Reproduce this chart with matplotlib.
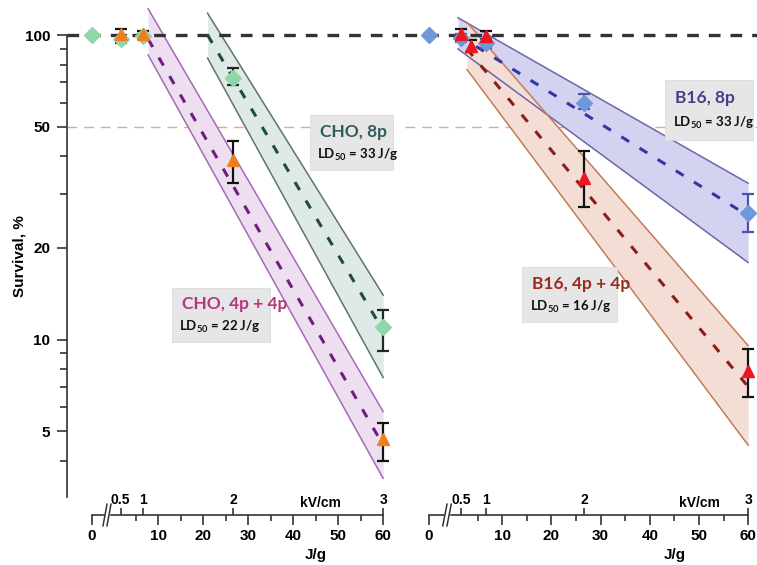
import numpy as np
import matplotlib.pyplot as plt
from matplotlib.ticker import FixedLocator, NullFormatter
from matplotlib.patches import Rectangle

plt.rcParams['font.family'] = ['Liberation Sans', 'DejaVu Sans']
plt.rcParams['mathtext.fontset'] = 'custom'
plt.rcParams['mathtext.rm'] = 'Lato:bold'
plt.rcParams['mathtext.it'] = 'Lato:bold:italic'
plt.rcParams['mathtext.bf'] = 'Lato:bold'

# ---- data (survival %, doses in J/g; 0 = untreated control) ----
cho8_x = [0, 1.67, 6.67, 26.7, 60]
cho8_y = [100, 97, 99, 72.5, 11]
cho8_lo = [100, 94, 97, 68.5, 9.2]
cho8_hi = [100, 100, 101, 78, 12.5]

cho44_x = [1.67, 6.67, 26.7, 60]
cho44_y = [101, 101, 39, 4.7]
cho44_lo = [97, 99, 32.6, 4.0]
cho44_hi = [105, 103, 45, 5.3]

b8_x = [0, 1.67, 6.67, 26.7, 60]
b8_y = [100, 98, 94, 60, 26]
b8_lo = [100, 95, 91, 57, 22.5]
b8_hi = [100, 101, 97, 64, 30]

b44_x = [1.67, 3.75, 6.67, 26.7, 60]
b44_y = [101, 92, 99, 34, 7.9]
b44_lo = [97, 88, 95, 27.2, 6.5]
b44_hi = [105, 96, 103, 41.6, 9.3]

# regression fits with confidence bands (ends)
cho44_fit_x = [7.8, 60]
cho44_fit_mid = [97, 4.5]
cho44_fit_up = [122, 5.8]
cho44_fit_dn = [86, 3.5]

cho8_fit_x = [21, 60]
cho8_fit_mid = [100, 10.7]
cho8_fit_up = [118, 14]
cho8_fit_dn = [84, 7.5]

b8_fit_x = [1.0, 60]
b8_fit_mid = [100, 25.5]
b8_fit_up = [114, 32.6]
b8_fit_dn = [90, 17.9]

b44_fit_x = [2.85, 60]
b44_fit_mid = [90, 7.0]
b44_fit_up = [110, 9.55]
b44_fit_dn = [77, 4.5]

jg_ticks = [0, 10, 20, 30, 40, 50, 60]
jg_minor = [5, 15, 25, 35, 45, 55]
kv_ticks = [0.5, 1, 2, 3]
y_ticks = [5, 10, 20, 50, 100]
y_minor = [3, 4, 6, 7, 8, 9, 30, 40, 60, 70, 80, 90]


def broken(off):
    # control (0 J/g) is drawn left of an axis break
    fwd = lambda x: np.where(np.asarray(x) < 0.5, np.asarray(x) + off, x)
    inv = lambda y: np.where(np.asarray(y) < 0.5 + off, np.asarray(y) - off, y)
    return fwd, inv


fig = plt.figure(figsize=(7.57, 5.65), dpi=100)
H = 492 / 565
B = 68 / 565
axL = fig.add_axes([67 / 757, B, 331 / 757, H])
axR = fig.add_axes([405 / 757, B, 352 / 757, H])

panels = [(axL, -4.67, (-5.55, 63.3)), (axR, -4.88, (-4.88, 61.8))]
dark = '#333333'

for ax, off, xl in panels:
    ax.set_yscale('log')
    ax.set_xscale('function', functions=broken(off))
    ax.set_xlim(*xl)
    ax.set_ylim(3.04, 125.5)
    ax.patch.set_visible(False)
    for s in ['top', 'right']:
        ax.spines[s].set_visible(False)
    ax.spines['bottom'].set_position(('outward', 13))
    ax.spines['bottom'].set_bounds(0, 60)
    ax.spines['bottom'].set_color(dark)
    ax.spines['bottom'].set_linewidth(1.2)
    ax.set_xticks(jg_ticks)
    ax.set_xticklabels([str(t) for t in jg_ticks], fontweight='bold', fontsize=11)
    ax.xaxis.set_minor_locator(FixedLocator(jg_minor))
    ax.tick_params(axis='x', which='major', length=7, width=1.2, color=dark, pad=3)
    ax.tick_params(axis='x', which='minor', length=4, width=1.2, color=dark)
    ax.axhline(100, color=dark, lw=2.4, dashes=(3.5, 3), zorder=2)
    ax.axhline(50, color='#f5a07e', lw=1.0, dashes=(7, 5), zorder=1)

    # kV/cm scale on top of the J/g line
    axk = fig.add_axes(ax.get_position())
    axk.set_xscale('function', functions=broken(off))
    axk.set_xlim(*xl)
    axk.patch.set_visible(False)
    axk.set_yticks([])
    for s in axk.spines.values():
        s.set_visible(False)
    axk.spines['top'].set_position(('axes', -18 / 492))
    axk.xaxis.set_ticks_position('top')
    axk.set_xticks([60 * (k / 3) ** 2 for k in kv_ticks])
    axk.set_xticklabels([f'{k:g}' for k in kv_ticks], fontweight='bold', fontsize=10)
    axk.tick_params(axis='x', which='major', direction='out', length=5, width=1.2,
                    color=dark, pad=1)

    # break marks
    bx = (107 - 67) / 331 if ax is axL else (447 - 405) / 352
    for dx in (-0.006, 0.006):
        ax.plot([bx + dx - 0.006, bx + dx + 0.006], [-18 / 492 - 0.022, -18 / 492 + 0.022],
                transform=ax.transAxes, color=dark, lw=1.1, clip_on=False, zorder=5)
    ax.plot([bx - 0.004, bx + 0.004], [-18 / 492, -18 / 492], transform=ax.transAxes,
            color='white', lw=2.5, clip_on=False, zorder=4)

    ax.annotate('J/g', xy=(45, -0.118), xycoords=('data', 'axes fraction'),
                ha='center', va='center', fontsize=11, fontweight='bold')
    ax.annotate('kV/cm', xy=(46 if ax is axL else 50, -0.012),
                xycoords=('data', 'axes fraction'),
                ha='center', va='center', fontsize=10, fontweight='bold')

# left y axis
axL.spines['left'].set_bounds(3.04, 100)
axL.spines['left'].set_color(dark)
axL.spines['left'].set_linewidth(1.2)
axL.set_yticks(y_ticks)
axL.set_yticklabels([str(t) for t in y_ticks], fontweight='bold', fontsize=11)
axL.yaxis.set_minor_locator(FixedLocator(y_minor))
axL.yaxis.set_minor_formatter(NullFormatter())
axL.tick_params(axis='y', which='major', length=7, width=1.2, color=dark, pad=5)
axL.tick_params(axis='y', which='minor', length=5, width=1.2, color=dark)
axL.set_ylabel('Survival, %', fontweight='bold', fontsize=11)
axL.yaxis.set_label_coords(-40 / 331, 0.49)

axR.spines['left'].set_visible(False)
axR.set_yticks([])
axR.yaxis.set_minor_locator(FixedLocator([]))


def band(ax, x, mid, up, dn, fill, edge, mcol):
    ax.fill_between(x, dn, up, color=fill, zorder=1.5, lw=0)
    ax.plot(x, up, color=edge, lw=1.1, zorder=1.6)
    ax.plot(x, dn, color=edge, lw=1.1, zorder=1.6)
    ax.plot(x, mid, color=mcol, lw=2.2, dashes=(3, 4), zorder=3)


band(axL, cho44_fit_x, cho44_fit_mid, cho44_fit_up, cho44_fit_dn, '#eddff0', '#a668b8', '#6d1f7e')
band(axL, cho8_fit_x, cho8_fit_mid, cho8_fit_up, cho8_fit_dn, '#dfe9e5', '#5c756c', '#1f4a45')
band(axR, b8_fit_x, b8_fit_mid, b8_fit_up, b8_fit_dn, '#d3d2f1', '#6c66a8', '#3535a8')
band(axR, b44_fit_x, b44_fit_mid, b44_fit_up, b44_fit_dn, '#f3ddd5', '#c67a57', '#8e1d17')


def pts(ax, x, y, lo, hi, marker, col, ecol, ms):
    y = np.array(y)
    yerr = [y - np.array(lo), np.array(hi) - y]
    ax.errorbar(x, y, yerr=yerr, fmt='none', ecolor=ecol, elinewidth=1.6,
                capsize=4, capthick=1.6, zorder=6)
    ax.plot(x, y, marker, color=col, ms=ms, mec=col, zorder=7, ls='none')


pts(axL, cho8_x, cho8_y, cho8_lo, cho8_hi, 'D', '#8fd6a8', '#1d2b28', 8.5)
pts(axL, cho44_x, cho44_y, cho44_lo, cho44_hi, '^', '#f07d1e', '#111111', 9)
pts(axR, b8_x, b8_y, b8_lo, b8_hi, 'D', '#6f98d8', '#5050b0', 8.5)
pts(axR, b44_x, b44_y, b44_lo, b44_hi, '^', '#ec1620', '#111111', 9)


def label_box(ax, x0, y0, w, h, title, ld, tcol):
    ax.add_patch(Rectangle((x0, y0), w, h, transform=ax.transAxes, fc='#e6e6e6',
                           ec='#d8d8d8', lw=0.5, zorder=8, clip_on=False))
    ax.text(x0 + 0.03, y0 + h * 0.70, title, transform=ax.transAxes, color=tcol,
            fontsize=12.5, fontweight='bold', family=['Lato', 'DejaVu Sans'],
            va='center', ha='left', zorder=9)
    ax.text(x0 + 0.022, y0 + h * 0.28, ld, transform=ax.transAxes, color='#111111',
            fontsize=9.5, fontweight='bold', family=['Lato', 'DejaVu Sans'],
            va='center', ha='left', zorder=9)


ld = r'LD$_{\mathrm{50}}$ = %d J/g'
label_box(axL, 0.734, 0.665, 0.251, 0.111, 'CHO, 8p', ld % 33, '#2e5e5a')
label_box(axL, 0.317, 0.315, 0.296, 0.110, 'CHO, 4p + 4p', ld % 22, '#b4367f')
label_box(axR, 0.738, 0.726, 0.250, 0.122, 'B16, 8p', ld % 33, '#4b3d8c')
label_box(axR, 0.332, 0.356, 0.270, 0.111, 'B16, 4p + 4p', ld % 16, '#9c2b1c')

fig.savefig('out.png', dpi=100)
